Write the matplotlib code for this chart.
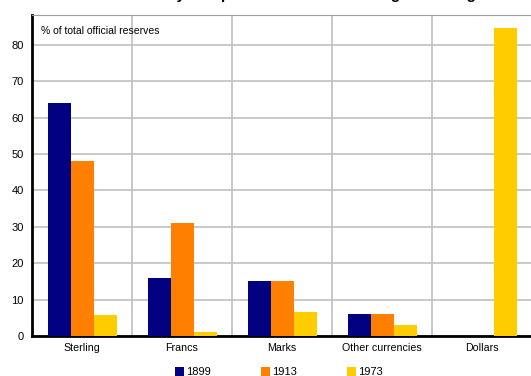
import matplotlib
matplotlib.use("Agg")
import matplotlib.pyplot as plt
import numpy as np

plt.rcParams['font.family'] = ['Liberation Sans', 'DejaVu Sans']

categories = ["Sterling", "Francs", "Marks", "Other currencies", "Dollars"]
years = ["1899", "1913", "1973"]
v1899 = [64, 16, 15, 6, 0]
v1913 = [48, 31, 15, 6, 0]
v1973 = [5.8, 1.2, 6.7, 3.0, 84.5]
colors = ["#000080", "#FF7F00", "#FFCC00"]

fig = plt.figure(figsize=(5.31, 3.76), dpi=100)
ax = fig.add_axes([32/531, 1-336/376, 500/531, 321/376])

x = np.arange(len(categories))
w = 0.23
for i, (vals, c, lab) in enumerate(zip([v1899, v1913, v1973], colors, years)):
    ax.bar(x + (i-1)*w, vals, width=w, color=c, label=lab, zorder=3)

ax.set_xlim(-0.5, 4.5)
ax.set_ylim(0, 88.2)
ax.set_yticks(range(0, 90, 10))
ax.set_xticks(x)
ax.set_xticklabels(categories, fontsize=7.7)
ax.tick_params(axis='y', labelsize=8, length=0, pad=6)
ax.tick_params(axis='x', length=0, pad=5)
ax.yaxis.grid(True, color="#c0c0c0", lw=1.2, zorder=0)
for b in np.arange(0.5, 4.5, 1):
    ax.axvline(b, color="#c0c0c0", lw=1.2, zorder=0)
ax.spines['left'].set_linewidth(2)
ax.spines['bottom'].set_linewidth(2)
ax.spines['top'].set_color("#a0a0a0")
ax.spines['right'].set_visible(False)

ax.text(0.018, 0.965, "% of total official reserves", transform=ax.transAxes,
        fontsize=7.5, va='top', ha='left')

fig.text(0.63, 1.0 + 0.5/376, "Currency composition of official foreign exchange reserves",
         fontsize=11, fontweight='bold', ha='center', va='baseline')

leg = fig.legend(loc='lower center', bbox_to_anchor=(0.525, -0.03), ncol=3,
                 frameon=False, fontsize=8, handlelength=0.8, handleheight=0.8,
                 columnspacing=4.5, handletextpad=0.2)

fig.savefig("out.png", dpi=100)
